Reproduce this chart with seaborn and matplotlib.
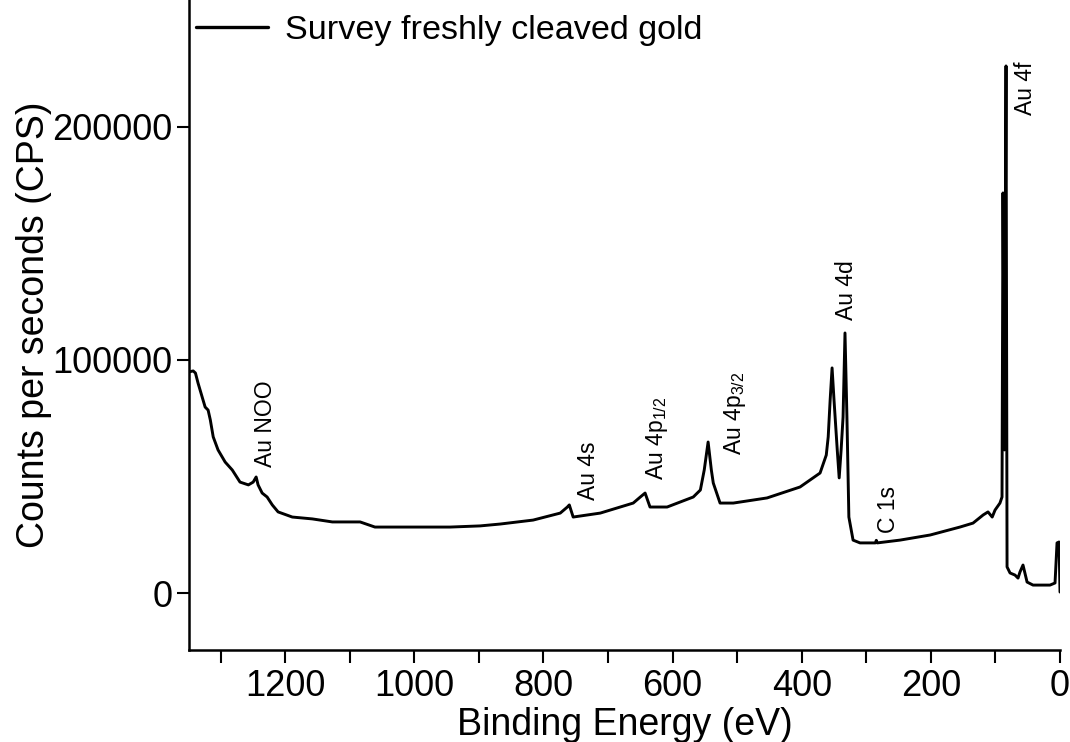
import matplotlib
matplotlib.use("Agg")
import matplotlib.pyplot as plt
import seaborn as sns
import numpy as np
import pandas as pd
from matplotlib.ticker import MultipleLocator, FixedLocator

# Binding energy (eV) and counts per second
binding_energy = [1349, 1342.5, 1339, 1335, 1328.6, 1324, 1319.4, 1316, 1311.5, 1304,
                  1293, 1282, 1270, 1257, 1249.6, 1245, 1242, 1235.7, 1228, 1220,
                  1211, 1189, 1158, 1127, 1084, 1061, 1022, 944.6, 898, 867,
                  816, 774, 763, 760, 754, 712, 661, 650, 642.6, 635,
                  608.5, 568, 557, 551, 545, 540, 537, 526.5, 506, 453.7,
                  402.6, 371.6, 362, 359, 356, 353, 350, 345, 342, 339,
                  336, 333, 330, 327, 320.5, 309.7, 286, 284.5, 283, 247.8,
                  201, 155, 134.7, 119, 111.5, 105, 100.6, 93, 89.8, 88.3,
                  86, 83.6, 82, 77.4, 69.7, 65, 62, 57.3, 51, 41.8,
                  15.5, 7.7, 4.6, 1.5, 0]
counts = [94900, 95300, 94400, 90100, 84100, 79800, 78500, 74300, 67000, 61400,
          56200, 52800, 47600, 46400, 47600, 49800, 46400, 42900, 41200, 37800,
          34800, 32600, 31800, 30500, 30500, 28300, 28300, 28300, 28800, 29600,
          31300, 34300, 36900, 37800, 32600, 34300, 38600, 41200, 42900, 36900,
          36900, 41200, 44200, 52800, 64800, 52800, 47200, 38600, 38600, 40800,
          45500, 51500, 59200, 67000, 82800, 96600, 82800, 61400, 49400, 61400,
          75500, 111600, 75500, 32600, 22700, 21500, 21500, 22600, 21500, 22700,
          24900, 28300, 30000, 33500, 34800, 32600, 35600, 38600, 41200, 171700,
          61400, 226200, 11200, 8600, 7700, 6400, 9000, 12000, 4700, 3400,
          3400, 4300, 21500, 21900, 400]

series_label = "Survey freshly cleaved gold"

peak_labels = ["Au NOO", "Au 4s", r"Au 4p$_\mathregular{1/2}$", r"Au 4p$_\mathregular{3/2}$",
               "Au 4d", "C 1s", "Au 4f"]
peak_label_x = [1231, 731, 624, 503, 330, 265, 54]
peak_label_y = [54100, 39900, 48500, 59200, 117200, 25800, 205200]

x_ticks = [1200, 1000, 800, 600, 400, 200, 0]
y_ticks = [0, 100000, 200000]

sns.set_style("ticks")
plt.rcParams["font.family"] = ["Liberation Sans", "DejaVu Sans"]
plt.rcParams["mathtext.fontset"] = "custom"
plt.rcParams["mathtext.rm"] = "Liberation Sans"
plt.rcParams["mathtext.it"] = "Liberation Sans:italic"
plt.rcParams["text.color"] = "black"
plt.rcParams["axes.labelcolor"] = "black"
plt.rcParams["xtick.color"] = "black"
plt.rcParams["ytick.color"] = "black"

fig = plt.figure(figsize=(10.7, 7.42), dpi=100)
ax = fig.add_axes([189 / 1070, 1 - 650 / 742, (1060 - 189) / 1070, 650 / 742])

df = pd.DataFrame({"be": binding_energy, "cps": counts})
sns.lineplot(data=df, x="be", y="cps", ax=ax, color="black", linewidth=2.1,
             estimator=None, label=series_label)

ax.set_xlim(1349, 0)
ax.set_ylim(-24460, 254500)
ax.xaxis.set_major_locator(FixedLocator(x_ticks))
ax.xaxis.set_minor_locator(MultipleLocator(100))
ax.yaxis.set_major_locator(FixedLocator(y_ticks))
ax.set_xticklabels([str(t) for t in x_ticks])
ax.set_yticklabels([str(t) for t in y_ticks])

ax.tick_params(axis="both", which="major", direction="out", length=9, width=1.5,
               labelsize=26, pad=3, color="black", labelcolor="black")
ax.tick_params(axis="x", which="minor", direction="out", length=9, width=1.5, color="black")
ax.tick_params(axis="x", which="major", pad=5)

ax.set_xlabel("Binding Energy (eV)", fontsize=27, labelpad=2, color="black")
ax.set_ylabel("Counts per seconds (CPS)", fontsize=27, labelpad=0, color="black")

sns.despine(ax=ax)
for s in ["left", "bottom"]:
    ax.spines[s].set_linewidth(1.8)
    ax.spines[s].set_color("black")

for lab, lx, ly in zip(peak_labels, peak_label_x, peak_label_y):
    ax.text(lx, ly, lab, rotation=90, ha="center", va="bottom", fontsize=16.5, color="black")

leg = ax.legend(loc="upper left", bbox_to_anchor=(196 / 1070, 1 - 15 / 742),
                bbox_transform=fig.transFigure, frameon=False, fontsize=24.6,
                handlelength=2.1, handletextpad=0.5, borderpad=0, borderaxespad=0)
for h in leg.get_lines():
    h.set_linewidth(2.4)
for t in leg.get_texts():
    t.set_color("black")

fig.savefig("out.png", dpi=100, facecolor="white")
